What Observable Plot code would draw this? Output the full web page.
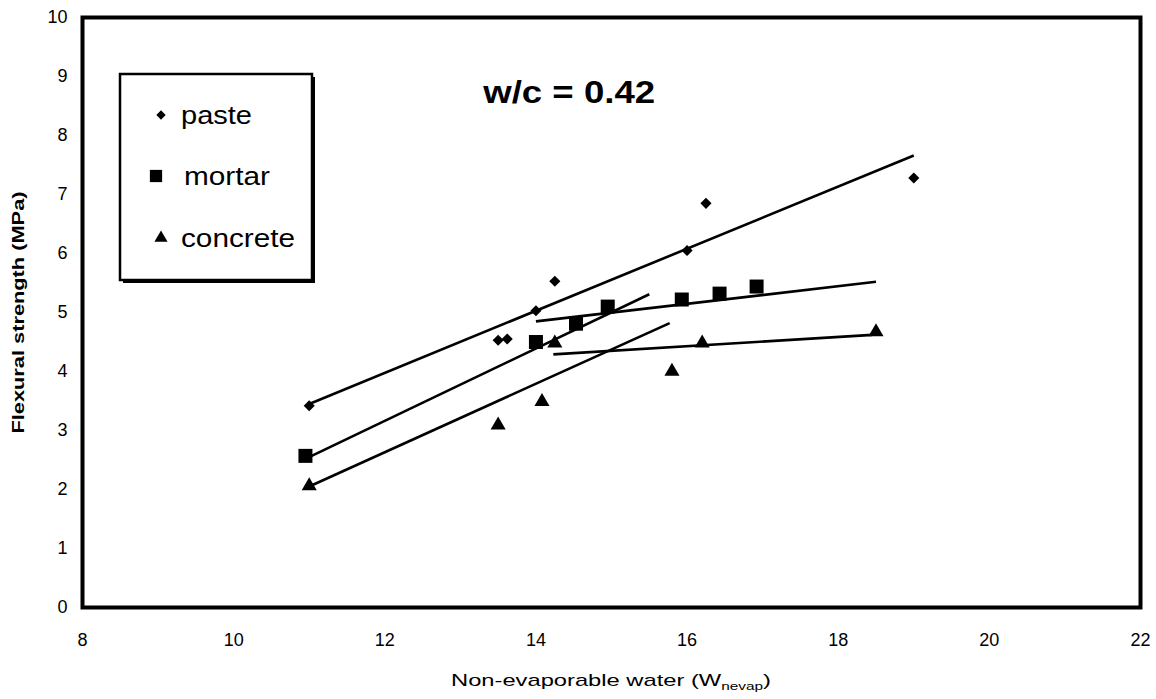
<!DOCTYPE html>
<html>
<head>
<meta charset="utf-8">
<script src="https://cdn.jsdelivr.net/npm/d3@7"></script>
<script src="https://cdn.jsdelivr.net/npm/@observablehq/plot@0.6"></script>
<style>
  html, body { margin: 0; padding: 0; background: #fff; }
  #chart { position: relative; width: 1156px; height: 699px; }
  svg text { font-family: "Liberation Sans", Arial, sans-serif; }
</style>
</head>
<body>
<div id="chart"></div>
<script>
// ---- data ----
const pasteX = [11.0, 13.5, 13.62, 14.0, 14.25, 16.0, 16.25, 19.0];
const pasteY = [3.42, 4.53, 4.55, 5.03, 5.53, 6.05, 6.85, 7.28];
const mortarX = [10.95, 14.0, 14.53, 14.95, 15.93, 16.43, 16.92];
const mortarY = [2.57, 4.50, 4.81, 5.10, 5.22, 5.32, 5.44];
const concreteX = [11.0, 13.5, 14.08, 14.25, 15.8, 16.2, 18.5];
const concreteY = [2.06, 3.09, 3.49, 4.48, 4.00, 4.48, 4.67];

// trend line segments (start/end)
const lineSeries = ["paste", "mortar", "mortar", "concrete", "concrete"];
const lineX1 = [11.0, 10.95, 14.0, 11.0, 14.23];
const lineY1 = [3.45, 2.52, 4.85, 2.05, 4.29];
const lineX2 = [19.0, 15.5, 18.5, 15.77, 18.45];
const lineY2 = [7.66, 5.31, 5.52, 4.82, 4.62];

const xTicks = [8, 10, 12, 14, 16, 18, 20, 22];
const yTicks = [0, 1, 2, 3, 4, 5, 6, 7, 8, 9, 10];
const seriesNames = ["paste", "mortar", "concrete"];
const seriesSymbols = ["diamond2", "square", "triangle"];
const seriesR = [5, 7.9, 5.6];
const annotation = ["w/c = 0.42"];
const annX = [14.44];
const annY = [8.72];
const yTitle = "Flexural strength (MPa)";
const xTitleMain = "Non-evaporable water (W";
const xTitleSub = "nevap";
const xTitleEnd = ")";

const points = [
  ...pasteX.map((x, i) => ({series: "paste", x, y: pasteY[i]})),
  ...mortarX.map((x, i) => ({series: "mortar", x, y: mortarY[i]})),
  ...concreteX.map((x, i) => ({series: "concrete", x, y: concreteY[i]}))
];
const segs = lineSeries.map((s, i) => ({series: s, x1: lineX1[i], y1: lineY1[i], x2: lineX2[i], y2: lineY2[i]}));

const symbolOf = s => seriesSymbols[seriesNames.indexOf(s)];
const rOf = s => seriesR[seriesNames.indexOf(s)];

const W = 1156, H = 699;
const mL = 82, mR = 16, mT = 17, mB = 92;

const plot = Plot.plot({
  width: W,
  height: H,
  marginLeft: mL,
  marginRight: mR,
  marginTop: mT,
  marginBottom: mB,
  style: {fontFamily: "Liberation Sans, Arial, sans-serif", background: "#fff", color: "#000"},
  x: {domain: [8, 22]},
  y: {domain: [0, 10]},
  marks: [
    Plot.axisX({ticks: xTicks, tickSize: 0, tickPadding: 26, fontSize: 18, label: null}),
    Plot.axisY({ticks: yTicks, tickSize: 0, tickPadding: 15, fontSize: 18, label: null}),
    Plot.link(segs, {x1: "x1", y1: "y1", x2: "x2", y2: "y2", stroke: "#000", strokeWidth: 2.6}),
    ...seriesNames.map(s => Plot.dot(points.filter(d => d.series === s), {
      x: "x", y: "y", symbol: () => symbolOf(s), r: rOf(s), fill: "#000", stroke: "none"
    })),
    Plot.text(annotation, {x: annX, y: annY, text: d => d, fontSize: 31, fontWeight: "bold", fill: "#000", className: "ann"}),
    Plot.text([yTitle], {frameAnchor: "left", textAnchor: "middle", rotate: -90, dx: -64, text: d => d, fontSize: 16, fontWeight: "bold", fill: "#000", className: "ytitle"}),
    Plot.frame({stroke: "#000", strokeWidth: 4})
  ]
});
document.getElementById("chart").appendChild(plot);

const svg = d3.select(plot);
// stretch texts to the reference's widths
svg.selectAll(".ann text").attr("textLength", 172).attr("lengthAdjust", "spacingAndGlyphs");
svg.selectAll(".ytitle text").attr("textLength", 242).attr("lengthAdjust", "spacingAndGlyphs");

// x axis title with subscript
const xt = svg.append("text")
  .attr("x", (mL + (W - mR)) / 2)
  .attr("y", 686)
  .attr("text-anchor", "middle")
  .attr("font-size", 17)
  .attr("fill", "#000")
  .attr("textLength", 320)
  .attr("lengthAdjust", "spacingAndGlyphs");
xt.append("tspan").text(xTitleMain);
xt.append("tspan").attr("font-size", 11).attr("dy", 4).text(xTitleSub);
xt.append("tspan").attr("dy", -4).text(xTitleEnd);

// legend box
const lg = svg.append("g");
const bx = 120, by = 74, bw = 192, bh = 206;
lg.append("rect").attr("x", bx + 3).attr("y", by + 3).attr("width", bw).attr("height", bh).attr("fill", "#000");
lg.append("rect").attr("x", bx).attr("y", by).attr("width", bw).attr("height", bh)
  .attr("fill", "#fff").attr("stroke", "#000").attr("stroke-width", 2.5);
const rowY = [115, 176, 238];
const symX = [161, 156, 161];
const symSize = [55, 150, 75];
const labelLen = [71, 86, 114];
seriesNames.forEach((s, i) => {
  const sym = {diamond2: d3.symbolDiamond2, square: d3.symbolSquare, triangle: d3.symbolTriangle}[seriesSymbols[i]];
  lg.append("path").attr("d", d3.symbol(sym, symSize[i])())
    .attr("transform", `translate(${symX[i]},${rowY[i]})`).attr("fill", "#000");
  lg.append("text").attr("x", i === 1 ? 184 : 181).attr("y", rowY[i]).attr("dy", "0.35em")
    .attr("text-anchor", "start")
    .attr("font-size", 25).attr("fill", "#000")
    .attr("textLength", labelLen[i]).attr("lengthAdjust", "spacingAndGlyphs")
    .text(s);
});
</script>
</body>
</html>
